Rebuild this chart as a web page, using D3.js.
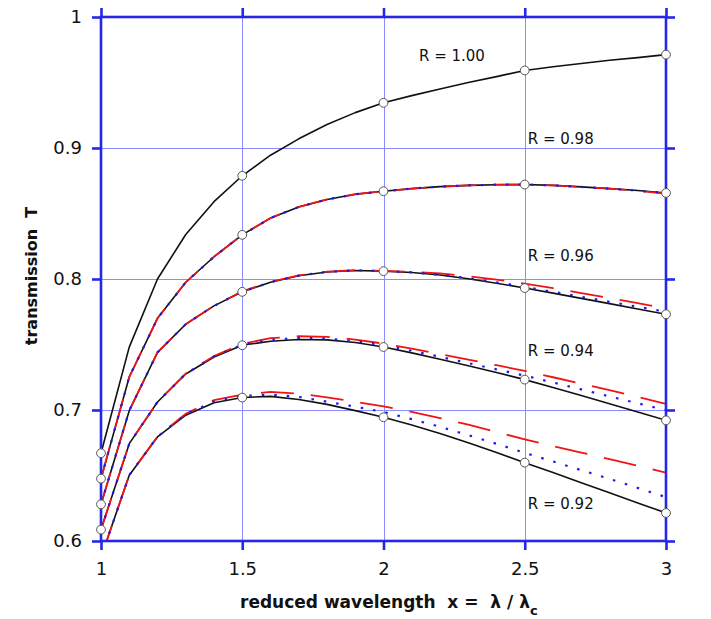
<!DOCTYPE html>
<html>
<head>
<meta charset="utf-8">
<script src="https://cdn.jsdelivr.net/npm/d3@7"></script>
<style>
  html, body { margin: 0; padding: 0; background: #fff; }
  svg { display: block; }
  text { font-family: "DejaVu Sans", Verdana, sans-serif; }
</style>
</head>
<body>
<svg id="chart" width="711" height="619"></svg>
<script>
// ---- data ----
const xValues = [1.0, 1.1, 1.2, 1.3, 1.4, 1.5, 1.6, 1.7, 1.8, 1.9, 2.0, 2.1, 2.2, 2.3, 2.4, 2.5, 2.6, 2.7, 2.8, 2.9, 3.0];
const markerX = [1, 1.5, 2, 2.5, 3];
const xTicks = [1, 1.5, 2, 2.5, 3];
const yTicks = [0.6, 0.7, 0.8, 0.9, 1];

// exact (black, solid)
const exact100 = [0.667, 0.748, 0.800, 0.834, 0.859, 0.8788, 0.8945, 0.907, 0.918, 0.927, 0.9345, 0.940, 0.945, 0.950, 0.9545, 0.9592, 0.962, 0.9645, 0.967, 0.969, 0.9713];
const exact098 = [0.6476, 0.7252, 0.770, 0.7975, 0.817, 0.8337, 0.8465, 0.855, 0.8607, 0.8647, 0.8670, 0.8690, 0.8705, 0.8715, 0.8720, 0.8721, 0.8715, 0.8703, 0.8690, 0.8675, 0.8657];
const exact096 = [0.628, 0.6995, 0.744, 0.7655, 0.7795, 0.7902, 0.7975, 0.8025, 0.8053, 0.8065, 0.8060, 0.8050, 0.8030, 0.8002, 0.7968, 0.7931, 0.7892, 0.7852, 0.7812, 0.7771, 0.7731];
const exact094 = [0.6087, 0.6743, 0.7061, 0.7275, 0.7405, 0.7494, 0.7525, 0.7538, 0.7535, 0.7515, 0.7481, 0.7436, 0.7388, 0.7338, 0.7286, 0.7232, 0.7172, 0.7110, 0.7048, 0.6985, 0.6921];
const exact092 = [0.5875, 0.6502, 0.6794, 0.6960, 0.7055, 0.7095, 0.7104, 0.7080, 0.7043, 0.6995, 0.6945, 0.6885, 0.6820, 0.6750, 0.6675, 0.6598, 0.6522, 0.6445, 0.6368, 0.6291, 0.6214];

// approximation 1 (red, dashed)
const red098 = [0.6476, 0.7252, 0.770, 0.7975, 0.817, 0.8337, 0.8465, 0.855, 0.8607, 0.8647, 0.8670, 0.8690, 0.8705, 0.8715, 0.8720, 0.8721, 0.8715, 0.8703, 0.8690, 0.8673, 0.8652];
const red096 = [0.628, 0.6995, 0.744, 0.7655, 0.7797, 0.7905, 0.7978, 0.8028, 0.8056, 0.8067, 0.8062, 0.8055, 0.8043, 0.8022, 0.7995, 0.7965, 0.7930, 0.7892, 0.7855, 0.7815, 0.7775];
const red094 = [0.6087, 0.6743, 0.7061, 0.7278, 0.7412, 0.7505, 0.7548, 0.7563, 0.7558, 0.7538, 0.7507, 0.7468, 0.7427, 0.7385, 0.7342, 0.7298, 0.7250, 0.7201, 0.7151, 0.7100, 0.7046];
const red092 = [0.5875, 0.6502, 0.6798, 0.6972, 0.7075, 0.7118, 0.7138, 0.7125, 0.7097, 0.7063, 0.7028, 0.6985, 0.6938, 0.6888, 0.6832, 0.6776, 0.6725, 0.6675, 0.6625, 0.6574, 0.6522];

// approximation 2 (blue, dotted)
const blue098 = [0.6476, 0.7252, 0.770, 0.7975, 0.817, 0.8337, 0.8465, 0.855, 0.8607, 0.8647, 0.8670, 0.8690, 0.8705, 0.8715, 0.8720, 0.8721, 0.8715, 0.8703, 0.8690, 0.8675, 0.8656];
const blue096 = [0.628, 0.6995, 0.744, 0.7655, 0.7795, 0.7902, 0.7976, 0.8026, 0.8054, 0.8066, 0.8061, 0.8051, 0.8032, 0.8006, 0.7974, 0.7940, 0.7902, 0.7864, 0.7826, 0.7788, 0.7750];
const blue094 = [0.6087, 0.6743, 0.7061, 0.7276, 0.7408, 0.7498, 0.7535, 0.7550, 0.7545, 0.7525, 0.7495, 0.7452, 0.7406, 0.7358, 0.7310, 0.7262, 0.7210, 0.7157, 0.7104, 0.7051, 0.6998];
const blue092 = [0.5875, 0.6502, 0.6796, 0.6966, 0.7065, 0.7106, 0.7118, 0.7100, 0.7063, 0.7025, 0.6985, 0.6930, 0.6872, 0.6808, 0.6742, 0.6673, 0.6607, 0.6541, 0.6474, 0.6405, 0.6335];

const labelText = ["R = 1.00", "R = 0.98", "R = 0.96", "R = 0.94", "R = 0.92"];
const labelX = [2.115, 2.5, 2.5, 2.5, 2.5];
const labelY = [0.9664, 0.9027, 0.8134, 0.7416, 0.6246];

// ---- drawing ----
const svg = d3.select("#chart");
const plotL = 101, plotR = 666, plotT = 17, plotB = 541;
const x = d3.scaleLinear().domain([1, 3]).range([plotL, plotR]);
const y = d3.scaleLinear().domain([0.6, 1]).range([plotB, plotT]);

const axisColor = "#2626e8";
const gridColor = "#8c8cff";

// grid
const grid = svg.append("g");
grid.selectAll("line.gx").data(xTicks.slice(1, -1)).join("line")
  .attr("x1", d => Math.round(x(d)) + 0.5).attr("x2", d => Math.round(x(d)) + 0.5)
  .attr("y1", plotT).attr("y2", plotB)
  .attr("stroke", gridColor).attr("stroke-width", 1);
grid.selectAll("line.gy").data(yTicks.slice(1, -1)).join("line")
  .attr("y1", d => Math.round(y(d)) + 0.5).attr("y2", d => Math.round(y(d)) + 0.5)
  .attr("x1", plotL).attr("x2", plotR)
  .attr("stroke", gridColor).attr("stroke-width", 1);

// curves
svg.append("clipPath").attr("id", "plotclip")
  .append("rect").attr("x", plotL).attr("y", plotT).attr("width", plotR - plotL).attr("height", plotB - plotT);

const line = d3.line().x((d, i) => x(xValues[i])).y(d => y(d));
const curves = svg.append("g").attr("clip-path", "url(#plotclip)");

const exactSeries = [exact100, exact098, exact096, exact094, exact092];
const redSeries = [red098, red096, red094, red092];
const blueSeries = [blue098, blue096, blue094, blue092];

curves.selectAll("path.exact").data(exactSeries).join("path")
  .attr("class", "exact")
  .attr("d", line).attr("fill", "none")
  .attr("stroke", "#111").attr("stroke-width", 1.6).attr("stroke-linejoin", "round");
curves.selectAll("path.red").data(redSeries).join("path")
  .attr("class", "red")
  .attr("d", line).attr("fill", "none")
  .attr("stroke", "#f01414").attr("stroke-width", 1.8).attr("stroke-dasharray", "33,17");
curves.selectAll("path.blue").data(blueSeries).join("path")
  .attr("class", "blue")
  .attr("d", line).attr("fill", "none")
  .attr("stroke", "#1a1af0").attr("stroke-width", 2.2).attr("stroke-dasharray", "2.5,10");

// axes (ticks outward on all four sides)
function styleAxis(g) {
  g.select(".domain").remove();
  g.selectAll(".tick line").attr("stroke", axisColor).attr("stroke-width", 2.6);
  g.selectAll(".tick text").attr("fill", "#111").style("font-size", "18px")
    .style("font-family", '"DejaVu Sans", Verdana, sans-serif');
}
const fmt = d => d3.format("")(d);
svg.append("g").attr("transform", `translate(0,${plotB})`)
  .call(d3.axisBottom(x).tickValues(xTicks).tickFormat(fmt).tickSize(9).tickPadding(12))
  .call(styleAxis);
svg.append("g").attr("transform", `translate(0,${plotT})`)
  .call(d3.axisTop(x).tickValues(xTicks).tickFormat("").tickSize(9))
  .call(styleAxis);
svg.append("g").attr("transform", `translate(${plotL},0)`)
  .call(d3.axisLeft(y).tickValues(yTicks).tickFormat(fmt).tickSize(9).tickPadding(10))
  .call(styleAxis);
svg.append("g").attr("transform", `translate(${plotR},0)`)
  .call(d3.axisRight(y).tickValues(yTicks).tickFormat("").tickSize(9))
  .call(styleAxis);

// frame
svg.append("rect").attr("x", plotL).attr("y", plotT)
  .attr("width", plotR - plotL).attr("height", plotB - plotT)
  .attr("fill", "none").attr("stroke", axisColor).attr("stroke-width", 2.6);

// markers on exact curves
const markerData = [];
exactSeries.forEach(s => {
  markerX.forEach(mx => {
    const idx = xValues.findIndex(v => Math.abs(v - mx) < 1e-9);
    if (s[idx] >= 0.6) markerData.push([mx, s[idx]]);
  });
});
svg.append("g").selectAll("circle").data(markerData).join("circle")
  .attr("cx", d => x(d[0])).attr("cy", d => y(d[1])).attr("r", 4.4)
  .attr("fill", "#fff").attr("stroke", "#555").attr("stroke-width", 1);

// curve labels
svg.append("g").selectAll("text").data(labelText).join("text")
  .attr("x", (d, i) => x(labelX[i]) + 3)
  .attr("y", (d, i) => y(labelY[i]))
  .style("font-size", "15px").attr("fill", "#111")
  .text(d => d);

// axis titles
const xt = svg.append("text")
  .attr("x", 240).attr("y", 608)
  .style("font-size", "17px").style("font-weight", "bold").style("white-space", "pre")
  .attr("fill", "#111");
xt.append("tspan").text("reduced wavelength  x =  λ / λ");
xt.append("tspan").attr("dy", 7).style("font-size", "13px").text("c");

svg.append("text")
  .attr("transform", "translate(37,276) rotate(-90)")
  .attr("text-anchor", "middle")
  .style("font-size", "16px").style("font-weight", "bold").style("white-space", "pre")
  .attr("fill", "#111")
  .text("transmission  T");
</script>
</body>
</html>
